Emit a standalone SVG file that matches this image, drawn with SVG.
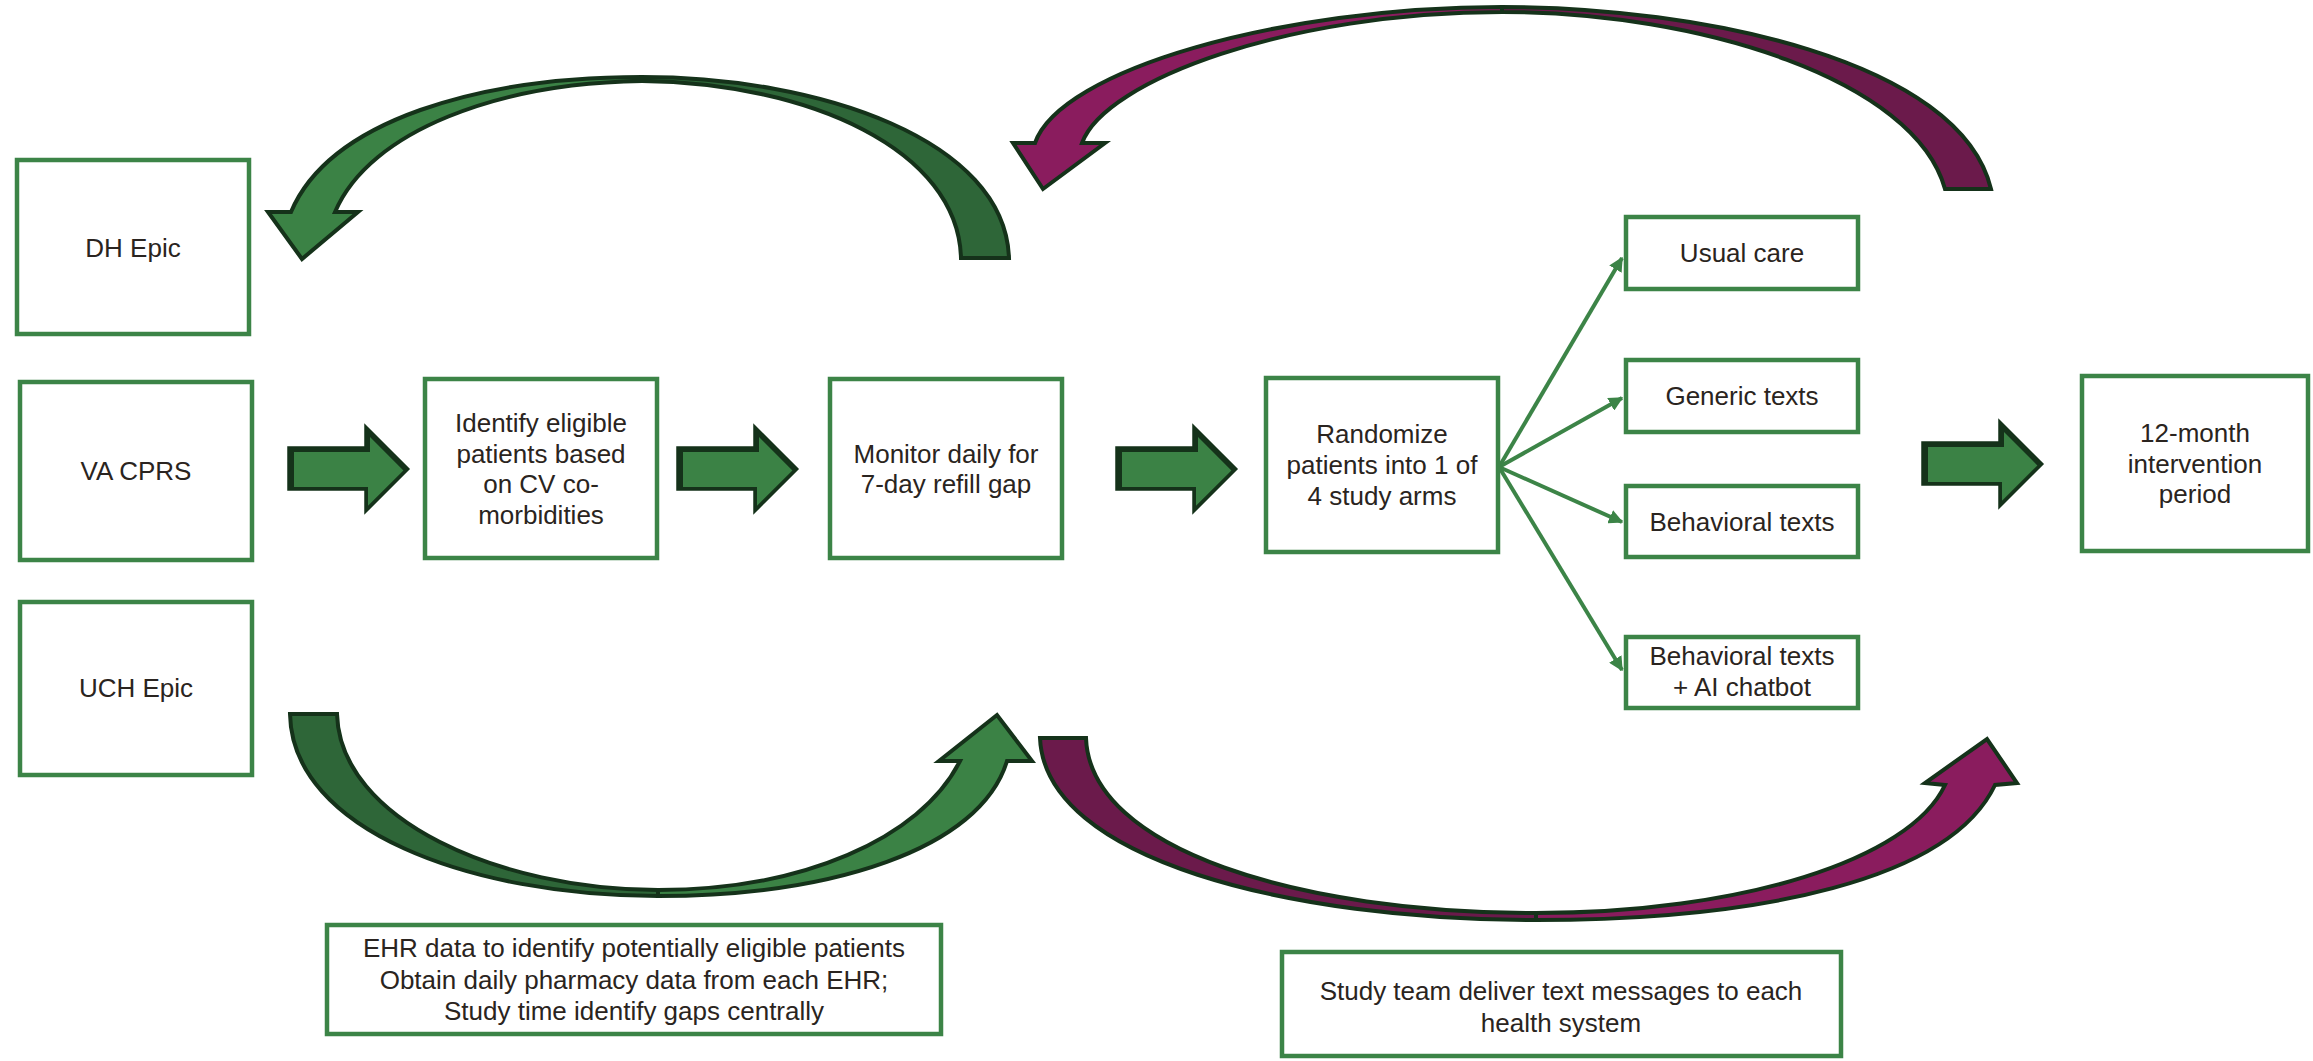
<svg xmlns="http://www.w3.org/2000/svg" width="2313" height="1061" viewBox="0 0 2313 1061">
<style>
.box{fill:#fff;stroke:#3c8447;stroke-width:4.5}
.t{font-family:"Liberation Sans",Arial,sans-serif;font-size:26px;fill:#2a2420;text-anchor:middle}
.ol{stroke:#15321a;stroke-width:4;stroke-linejoin:miter}
.gl{fill:#3b8245}
.gd{fill:#2e6638}
.pl{fill:#8a1c5e}
.pd{fill:#6b1a4b}
.fan{stroke:#3c8447;stroke-width:4;fill:none;marker-end:url(#ah)}
</style>
<defs>
<marker id="ah" viewBox="0 0 10 10" refX="9" refY="5" markerWidth="3.6" markerHeight="3.6" orient="auto" markerUnits="strokeWidth">
<path d="M0,0 L10,5 L0,10 Z" fill="#3c8447"/>
</marker>
<g id="blk">
<polygon points="0,22 77,22 77,0 121,44 77,88 77,65 0,65" fill="#15321a" stroke="#15321a" stroke-width="1.5" stroke-linejoin="miter"/>
<polygon points="6,27 82,27 82,12 115.4,45.4 80,80.8 80,62 6,62" fill="#3b8245"/>
</g>
</defs>
<rect width="2313" height="1061" fill="#fff"/>

<g id="connectors">
<g id="curve-top-left">
<path class="gd ol" d="M642,77 C820,77 1005,140 1009,258 L961,258 C958,150 810,83 642,81 Z"/>
<path class="gl ol" d="M335,212 C370,130 500,83 642,81 L642,77 C480,77 330,120 291,212 L268,212 L302,259 L358,212 Z"/>
</g>
<g id="curve-top-right">
<path class="pd ol" d="M1502,7 C1700,7 1960,60 1991,189 L1945,189 C1915,80 1700,12 1502,12 Z"/>
<path class="pl ol" d="M1082,143 C1105,80 1290,12 1502,12 L1502,7 C1280,7 1060,70 1035,143 L1013,143 L1043,189 L1105,143 Z"/>
</g>
<g id="curve-bottom-left">
<path class="gd ol" d="M290,714 C292,830 470,896 658,896 L658,890 C500,890 340,820 337,714 Z"/>
<path class="gl ol" d="M658,896 C830,896 980,850 1007,761 L1032,761 L997,715 L939,761 L960,761 C920,840 800,890 658,890 Z"/>
</g>
<g id="curve-bottom-right">
<path class="pd ol" d="M1040,738 C1045,860 1290,920 1536,920 L1536,913 C1300,913 1090,850 1086,738 Z"/>
<path class="pl ol" d="M1536,920 C1760,920 1950,880 1995,785 L2017,783 L1987,739 L1925,783 L1945,785 C1910,860 1740,913 1536,913 Z"/>
</g>
<use href="#blk" transform="translate(288,425)"/>
<use href="#blk" transform="translate(677,425)"/>
<use href="#blk" transform="translate(1116,425)"/>
<use href="#blk" transform="translate(1922,420)"/>
<line class="fan" x1="1499" y1="467" x2="1622" y2="258"/>
<line class="fan" x1="1499" y1="467" x2="1622" y2="398"/>
<line class="fan" x1="1499" y1="467" x2="1622" y2="522"/>
<line class="fan" x1="1499" y1="467" x2="1622" y2="670"/>
</g>

<g id="dh-epic"><rect class="box" x="17" y="160" width="232" height="174"/><text class="t" x="133" y="257">DH Epic</text></g>
<g id="va-cprs"><rect class="box" x="20" y="382" width="232" height="178"/><text class="t" x="136" y="480">VA CPRS</text></g>
<g id="uch-epic"><rect class="box" x="20" y="602" width="232" height="173"/><text class="t" x="136" y="697">UCH Epic</text></g>
<g id="identify"><rect class="box" x="425" y="379" width="232" height="179"/>
<text class="t" x="541" y="432">Identify eligible</text>
<text class="t" x="541" y="462.5">patients based</text>
<text class="t" x="541" y="493">on CV co-</text>
<text class="t" x="541" y="523.5">morbidities</text></g>
<g id="monitor"><rect class="box" x="830" y="379" width="232" height="179"/>
<text class="t" x="946" y="462.5">Monitor daily for</text>
<text class="t" x="946" y="493">7-day refill gap</text></g>
<g id="randomize"><rect class="box" x="1266" y="378" width="232" height="174"/>
<text class="t" x="1382" y="443">Randomize</text>
<text class="t" x="1382" y="474">patients into 1 of</text>
<text class="t" x="1382" y="504.5">4 study arms</text></g>
<g id="usual-care"><rect class="box" x="1626" y="217" width="232" height="72"/><text class="t" x="1742" y="262">Usual care</text></g>
<g id="generic"><rect class="box" x="1626" y="360" width="232" height="72"/><text class="t" x="1742" y="405">Generic texts</text></g>
<g id="behavioral"><rect class="box" x="1626" y="486" width="232" height="71"/><text class="t" x="1742" y="531">Behavioral texts</text></g>
<g id="behavioral-ai"><rect class="box" x="1626" y="637" width="232" height="71"/>
<text class="t" x="1742" y="665">Behavioral texts</text>
<text class="t" x="1742" y="696">+ AI chatbot</text></g>
<g id="twelve-month"><rect class="box" x="2082" y="376" width="226" height="175"/>
<text class="t" x="2195" y="442">12-month</text>
<text class="t" x="2195" y="473">intervention</text>
<text class="t" x="2195" y="503">period</text></g>
<g id="ehr-note"><rect class="box" x="327" y="925" width="614" height="109"/>
<text class="t" x="634" y="957">EHR data to identify potentially eligible patients</text>
<text class="t" x="634" y="988.5">Obtain daily pharmacy data from each EHR;</text>
<text class="t" x="634" y="1020">Study time identify gaps centrally</text></g>
<g id="study-note"><rect class="box" x="1282" y="952" width="559" height="104"/>
<text class="t" x="1561" y="1000">Study team deliver text messages to each</text>
<text class="t" x="1561" y="1032">health system</text></g>
</svg>
